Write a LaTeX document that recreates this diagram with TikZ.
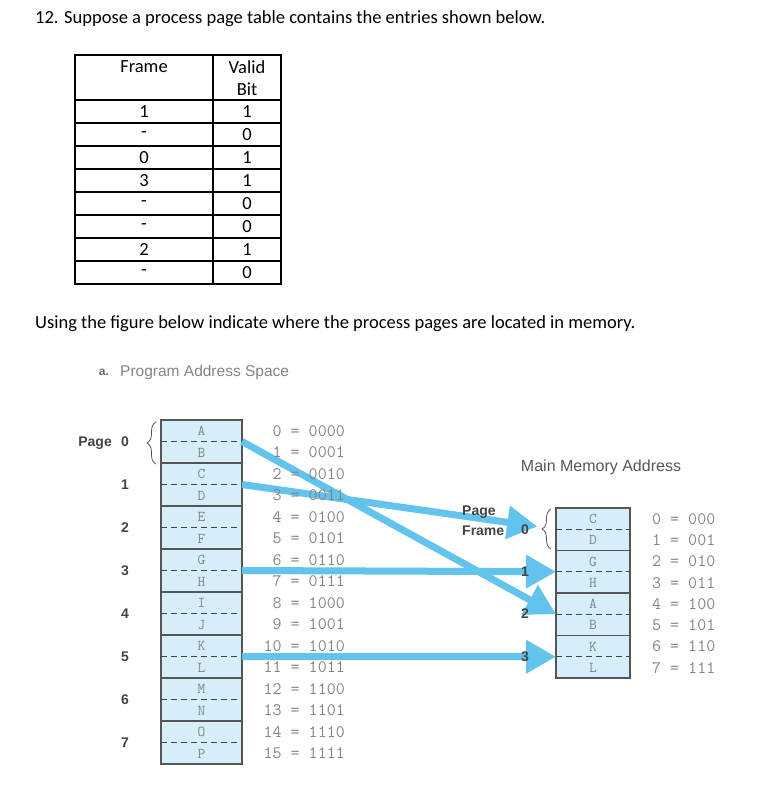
\documentclass[tikz,border=0pt]{standalone}
\usepackage{fontspec}
\setmainfont{Carlito}
\newfontfamily\figsans{Liberation Sans}
\usetikzlibrary{arrows.meta}
\usetikzlibrary{decorations.pathreplacing}
\definecolor{memblue}{HTML}{D5EEF9}
\definecolor{arrowblue}{HTML}{62C3EC}
\definecolor{boxline}{HTML}{555555}
\definecolor{addrgray}{HTML}{858585}
\definecolor{labelgray}{HTML}{444444}
\tikzset{pagebox/.style={draw=boxline,line width=1.6pt,fill=memblue,minimum width=81pt,minimum height=43pt,inner sep=0pt,outer sep=0pt}}
\tikzset{framebox/.style={pagebox,minimum width=74pt,minimum height=42.5pt}}
\tikzset{cell/.style={font=\fontsize{18.5}{20}\selectfont,inner sep=0pt}}
\tikzset{addr/.style={font=\ttfamily\fontsize{17.5}{17.5}\selectfont,text=addrgray,inner sep=0pt}}
\tikzset{letter/.style={font=\ttfamily\fontsize{15}{15}\selectfont,text=addrgray,inner sep=0pt}}
\tikzset{num/.style={font=\figsans\bfseries\fontsize{14}{14}\selectfont,text=labelgray,inner sep=0pt}}
\tikzset{halfline/.style={draw=labelgray,line width=1.3pt,dash pattern=on 6pt off 4pt}}
\tikzset{maparrow/.style={draw=arrowblue,line width=7pt,-{Triangle[length=30pt,width=32pt]}}}
\tikzset{bracket/.style={draw=boxline,line width=0.8pt,decorate,decoration={brace,amplitude=9pt}}}

\begin{document}
\begin{tikzpicture}[x=1pt,y=-1pt]
  \fill[white] (0,0) rectangle (758,808);
  \useasboundingbox (0,0) rectangle (758,808);

  % question text
  \node[cell,anchor=base west] (title) at (35,24) {12. Suppose a process page table contains the entries shown below.};
  \node[cell,anchor=base west] (using) at (35,328) {Using the figure below indicate where the process pages are located in memory.};

  % page table
  \draw[line width=2pt] (75,55) rectangle (281,284);
  \draw[line width=1.5pt] (213,55) -- (213,284);
  \draw[line width=2pt] (75,100) -- (281,100);
  \foreach \r in {1,...,7}
    \draw[line width=1.5pt] (75,{100+23*\r}) -- (281,{100+23*\r});
  \node[cell] (hframe) at (144,67) {Frame};
  \node[cell] (hvalid) at (247,67) {Valid};
  \node[cell] (hbit) at (247,89) {Bit};
  \foreach \f/\v [count=\r from 0] in {1/1,-/0,0/1,3/1,-/0,-/0,2/1,-/0} {
    \node[cell] (fr\r) at (144,{111.5+23*\r}) {\f};
    \node[cell] (vb\r) at (247,{111.5+23*\r}) {\v};
  }

  % figure caption
  \node[font=\figsans\bfseries\fontsize{12}{12}\selectfont,text=labelgray!80] (itema) at (104,372) {a.};
  \node[font=\figsans\fontsize{15.5}{15.5}\selectfont,text=addrgray,anchor=west,inner sep=0pt] (progspace) at (120,372) {Program Address Space};
  \node[font=\figsans\fontsize{16}{16}\selectfont,text=labelgray!90] (mainmem) at (601,467) {Main Memory Address};

  % program pages
  \foreach \a/\b [count=\i from 0] in {A/B,C/D,E/F,G/H,I/J,K/L,M/N,O/P} {
    \node[pagebox] (p\i) at (201.5,{441.5+43*\i}) {};
    \draw[halfline] (p\i.west) -- (p\i.east);
    \node[letter] (up\i) at (201.5,{431+43*\i}) {\a};
    \node[letter] (lo\i) at (201.5,{452.5+43*\i}) {\b};
  }

  % memory frames
  \foreach \a/\b [count=\j from 0] in {C/D,G/H,A/B,K/L} {
    \node[framebox] (f\j) at (593,{529.25+42.5*\j}) {};
    \draw[halfline] (f\j.west) -- (f\j.east);
    \node[letter] (fu\j) at (593,{519+42.5*\j}) {\a};
    \node[letter] (fl\j) at (593,{540+42.5*\j}) {\b};
  }

  % mapping
  \draw[maparrow] (p0.east) -- (f2.west);
  \draw[maparrow,shorten >=19pt] (p1.east) -- (f0.west);
  \draw[maparrow] (p3.east) -- (f1.west);
  \draw[maparrow] (p5.east) -- (f3.west);

  % addresses
  \foreach \k/\bin in {0/0000,1/0001,2/0010,3/0011,4/0100,5/0101,6/0110,7/0111,8/1000,9/1001,10/1010,11/1011,12/1100,13/1101,14/1110,15/1111}
    \node[addr,anchor=east] (pa\k) at (345,{431+21.5*\k}) {\k\ = \bin};
  \foreach \k/\bin in {0/000,1/001,2/010,3/011,4/100,5/101,6/110,7/111}
    \node[addr,anchor=west] (fa\k) at (652,{519+21.25*\k}) {\k\ = \bin};

  % page numbers
  \node[num,anchor=base east] (pagelbl) at (112,446.5) {Page};
  \foreach \i in {0,...,7}
    \node[num] (n\i) at (125,{441.5+43*\i}) {\i};
  \node[num,anchor=base west] (pflbl) at (462,515) {Page};
  \node[num,anchor=base west] (frlbl) at (462,535) {Frame};
  \foreach \j/\y in {0/530,1/572,2/614,3/657}
    \node[num] (m\j) at (525,\y) {\j};

  % braces
  \draw[bracket] (156,464) -- (156,422);
  \draw[bracket] (551,549) -- (551,509);
\end{tikzpicture}
\end{document}
